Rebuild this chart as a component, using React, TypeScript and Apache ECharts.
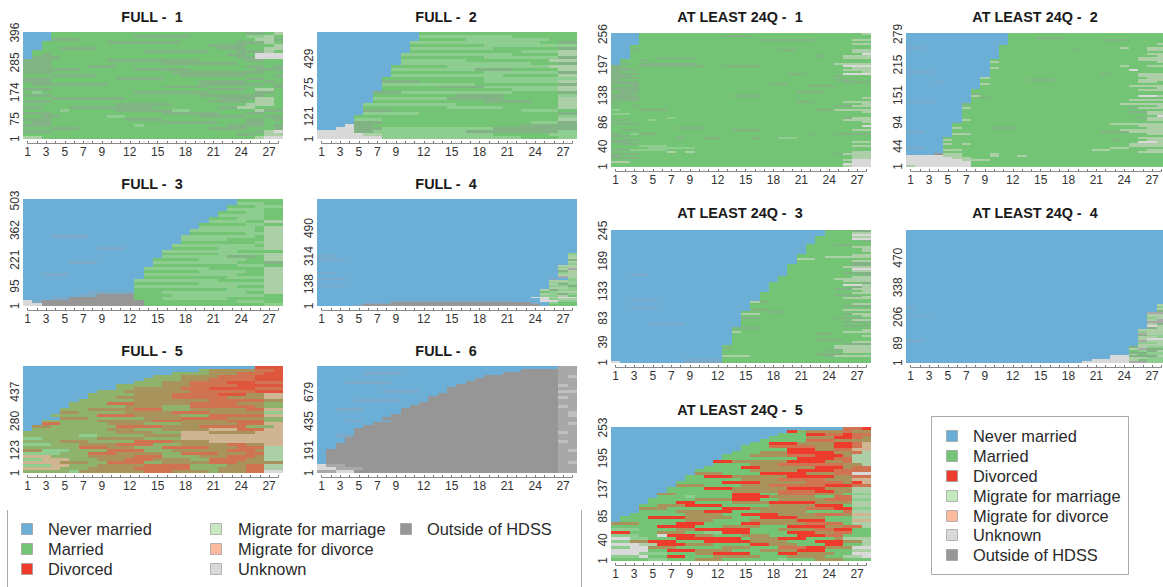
import React, { useEffect, useRef } from "react";
import * as echarts from "echarts";

const FONT = "'Liberation Sans', Arial, sans-serif";
const stateColors: Record<string, string> = {
  N: "#6BAED6", M: "#74C476", D: "#EF3B2C", m: "#C7E9C0", d: "#FCBBA1", U: "#D9D9D9", O: "#969696",
  g: "#82b385", h: "#8ecd90", x: "#accfa8", w: "#a8a8a8", u: "#c0c0c0", b: "#7ba9c8",
  j: "#a8935c", k: "#cf7350", K: "#e0563c", v: "#8fb36c", y: "#cfb592",
};
const legendNames = ["Never married", "Married", "Divorced", "Migrate for marriage", "Migrate for divorce", "Unknown", "Outside of HDSS"];
const legendColors = ["#6BAED6", "#74C476", "#EF3B2C", "#C7E9C0", "#FCBBA1", "#D9D9D9", "#969696"];
const xLabels = [1, 3, 5, 7, 9, 12, 15, 18, 21, 24, 27];
const xTicks = [1, 2, 3, 4, 5, 6, 7, 8, 9, 10, 11, 12, 13, 14, 15, 16, 17, 18, 19, 20, 21, 22, 23, 24, 25, 26, 27, 28];

const full1 = [
  "N3M21g2M1x1", "N3M9g6M6h2x1M1", "N3g3M18M1x2g1", "N2M1M6g8M6g3x1M1", "N2M18g4M2M1x1", "N2M2g4M13g3M2x2", "N1M2M10g7M3g3x1M1", "N1M1g1M19g2M1U2", "N1g3M19g2U3",
  "g3M6g10M5g2M2", "g3M12g8M3M2", "g3M4g3M14g2M1g1", "g3g3M6g6M6M1g1", "g3M13g8g2M2", "M3g5M9g7M2M1g1", "g3M7g5M9g2M2", "g3M16g5M2g1M1", "M1g2g6M10g7M1g1",
  "M3M12g5M6M1g1", "g3M10M7g4M1x2M1", "M1h1M10g8M5g2M1", "g3M16g6g1M2", "M3g8M10g4x2M1", "g3M17g4M1x2M1", "M3M7g6M8x3M1", "g2M3g9M7g2x2M1",
  "M4h1M5g6h2M6M1x1g1", "g3M12g6M3g2M2", "M2g2M5h2M8g5M2g1", "g3M8g4M9g2M1g1", "M1g2M12g6M3g2M2", "g3M9h1M9g4M1g1", "M3g3M14g4M2M1g1",
  "g3M18M4g1x1U1", "M3M20g2M1x2", "x2M1M21M1x1U2",
];
const full2 = [
  "N11M17", "N11h10M7", "N11M5h9M3", "N10h14M2g2", "N10M8h8h2", "N10h9M7g2", "N10M12h4x2",
  "N9h12M5x2", "N9M9h8g2", "N9h7M9x3", "N9h14M3g2", "N8M6h11x3", "N8h9g4M5x2", "N8M10h8g2", "N8h12M6x2",
  "N7M11h10", "N7g4M7h8x2", "N7h10M9g2", "N7M6g5h8x2", "N7M14h5x2", "N6g3h12M5g2", "N6M9g5M6h2", "N6h8g6M6x2", "N6M12g5M3x2",
  "N5h10M11x2", "N5M9h6M6x2", "N5g3M14h4M2", "N5h6M15g2", "N4M22h2", "N4h3M19x2", "N4g3M16h3g2",
  "N3U1g2M16g6", "N2U2g3h12g9", "U4g2h10g8g2h2", "U5x2h12M6h3", "U7h15M4h2",
];
const full3 = [
  "N23M5", "N23h3M2", "N22M3h3", "N22h4M2", "N21M3h2M2", "N21h5M2", "N20M3h3M2", "N20h4M2x2", "N19M5h2M2", "N19h6M1x2",
  "N18h7M1x2", "N18M6h2x2", "N3b4N10h8M1x2", "N17h5M4x2", "N17M8h1x2", "N16h9M1x2", "N8b3N5M5h5x2", "N15h8M3M2", "N15M6h5x2", "N15h7g3M1x2",
  "N14M5h5M2x2", "N5b3N6h9M3g2", "N14M9h3M2", "N13h7M6x2", "N13M6h5M2x2", "N2b3N8h10M3x2", "N13M9h4x2", "N12h9M5x2", "N12M7h7x2", "N12h11M3x2", "N12M10h4x2",
  "N7b5M3h9M2x2", "N6b2O4M4h10M2", "N3b2O7M3h7M5", "U1b1O11M10h3M2", "U2O11M13h2",
];
const full4 = [
  "N28*29", "N27h1", "b2N25x1", "N27x1", "b3N24g1", "N27x1", "N27h1", "N26x2", "N26h1x1", "N26x1w1", "N26g1x1", "b2N24h1x1", "N26x2", "N26w1x1",
  "b3N22b1N1h1x1", "N25x2h1", "N25h2x1", "N25x1g1h1", "b3N22h2g1", "N25x2h1", "N24x1g1h2", "N24M1h1x2", "N24x1h1g1h1", "N24h2x1M1", "N23U2x1U2",
  "N24U1h1x2", "N8b13N3U2h2", "N5b3O15b1N1h1M3", "N4b1O19N1M3",
];
const full5 = [
  "N25K3", "N19v1j5k2K1", "N16v4j3k3K2", "N14v3j4k4K3", "N13v4j3k5K3", "N12v3j3k4K3k3", "N10v5j3k5K5", "N10v2j5k3K5k3", "N8v3j5j2k7K3", "N7v5j4k5K3j2y2",
  "N7v3j6k6j4y2", "N6v6j5j3k6j2", "N5v4k3j6k5j3v2", "N5v6j4v3k7j1v2", "N4v3j5k3v3j6k2y2", "N4j2v5j5k4j6h2", "N3v5k4j5v3k6y2", "N4j3v6j4k5j4v2", "N2v6j6k3j5k4v2", "N2k2v5j4v4j6k3y2",
  "N1j2v7k5j4k5v3y1", "N1v8j3v3j5y3k3y2", "v10j4v3y3j5y3", "v6h2v5j4y4y4y3", "h2v6j5v4y6y3y2", "v4j3v5k4j4y5y3", "h3v3j4k4v3j5k2j2y2", "v6k3j3v3k5j3k3x2", "j2h3v4k4v3j6k3j1x2", "h4v3k3j5v2k4j3k2x2",
  "y3v4j5k3v4j3k3j1x2", "h2y3v3j3k3j4v2k4j2x2", "y4j3v2k4v2j5k3j3", "h3y2v3j5k5v4j2k2x2", "y4v3j5k6v3j3k2x2", "v5h1j7k3j4v1j3k2U2",
];
const full6 = [
  "N26w2", "N22O4w2", "N5b4N11O6w2", "N18O8w1u1", "N17O9w2", "N3b5N8O10w2", "N15O11u1w1", "N14O12w2", "N7b4N3O12u2", "N13O13w2", "N12O14u1w1", "N4b5N3O14w2",
  "N11O15w2", "N10O16u1w1", "N2b3N4O17w2", "N9O17w1u1", "N8O18w1u1", "N7O19w2", "N3b2N2b1O18w2", "N6O20w1u1", "N5O21w2", "N4O22w2", "N4O22u1w1", "N2b2O22w2", "N3O23w2", "N3O23u1w1", "N2O24w2", "N2O24w2", "N1O25w1u1",
  "N1O25w2", "N1O25w2", "N1O25w2", "N1O25w1u1", "U1w2O23w2", "U2w3O21w2", "w2U2O22w2",
];
const al1 = [
  "N3M24x1", "N3M9g3M13", "N3M25", "N3M13g6M4x2", "N3M25", "N3M23x2", "N2M26", "N2M26", "N2g1M15g2M6x2", "N2M24x2", "N2M25U1", "N2M20g1M2x3",
  "N2M3g4M13M3x3", "N1M2g1M24", "N1M27", "N1g1M1g6M15x4", "g1M2g7M2g4M9U3", "g2M24x2", "g2g1M20M2x3", "g1M26x1", "g3M16g2M4U3", "g2M2M20g1M3", "g3M25", "g1M23g2M2",
  "g3M22g3", "g2g1M14g2M9", "M2g1M18g3M4", "g3M25", "g3M25", "M1g2M17g3M5", "g2M26", "g3M10g3M12", "g3M24x1", "g3M25", "M3M17g2M3x3", "g1M2M24x1", "M2g1M21g2x2",
  "M28", "h1M2g3M16g2x1x3", "M27x1", "h2M26", "M28", "M3M3h1M18g1x2", "g2M2h1M20x3", "M27x1", "g3M25", "M27U1", "M3M4g3M18", "M1g2M10g3M10x2", "M28", "g1M1h1g2M16g1M2g2", "g2M26",
  "M7g1M2g2M3g1M2h2M10", "g3M25", "g2M24x2", "M1g2M25", "M3h3M20x2", "M4h5M19", "g2h1h3M22", "M6x1M1x1M17x2", "g3M21g1x3", "g1M25x2", "g3M23x2", "M3M22x1U2", "x2M24U2", "M25U3", "M25x1U2",
];
const al2 = [
  "N11M17", "N11M17", "N11M3g3M11", "N11M10g3M2M2", "N11M17", "N11M16x1",
  "N10M18", "b2N8M13x1M2x2", "N10M8g1M7x2", "N10M18", "N10M16x2", "N10M17x1", "N10M15x3",
  "N9M16x3", "N9x1M17x1", "N9M18", "N9M14x1M2x2", "N9x1M18", "N9M15U1M2", "b3N6M19", "N9M12g1M3x3", "N9M16x2x1",
  "N8x1M17x2", "N8M5g3M9x3", "N3b1N4M17x2M1", "N8x1M19", "N8M16x3x1", "N8M19x1",
  "N7M18x3", "N7M21", "N7g1M20", "N7x1M17U2x1", "N7M1g1M19", "N7M17x3x1", "b3N4M21",
  "N6g1M16x3x2", "N6M21x1", "N6x1M17g1x3", "N6M22", "N6M18g2x2", "N6M20x2", "N6M21U1", "N6M19g1x2", "N6x1M19x2", "N6M22",
  "N5M17x4x2", "N5M20x3", "N5x1M3g3M14x2", "N5M18x3x2", "b2N3M16g3x2x2", "N5x1x1M19x2", "N5M23",
  "N4M21x3", "N4x1M17g1M3x2", "N4M21U2x1", "N4x1M1x1M17x4", "N4M20x4", "b2N2M18x2M4", "N4x2M14x2M4x2", "N4M21x3",
  "N3O1x2M3x1M19", "U4x2M3x1M2x1M15", "U5x2M9M12", "U6x2x1M19", "U7M21", "U7M21x1", "x1U6M21",
];
const al3 = [
  "N23M3g2", "N23M3x2", "N23M3U2", "N22M4x2", "N22M4U2", "N22M5g1", "N22M6",
  "N21M3g2M2", "N21M5x2", "N21M4M2x1", "N21M6x1", "N21M7",
  "N20M6x2", "N20M3x3x2", "N20x2M6", "N20M6x2", "N20M6g2",
  "N19M7g2", "N19M6x3", "N19M7U2", "N19M7x2", "N19M6g2", "N2b2N15M8g1",
  "N18M8x2", "N18M6x2x2", "N18M7x3",
  "N17M10g1", "N17M8U2x1", "N17M9g1x1", "N17M7g2x2", "N17M10x1",
  "N16M10x2", "N16M8g2M2", "N16M10g1x1", "N16M9x3", "N2b3N11M12",
  "N15x1g1M8M3", "N15M11x2", "N15M10g3", "N2b3N10M13", "N15g2M8x3",
  "N14M3g2M9", "N14x2M9g1x2", "N14M13x1", "N14g2M8g3M1", "N14M12x2", "N14M11g3", "N4b4N6M14", "N14M11g3",
  "N13g3M12", "N13M14x1", "N13x1M11x3", "N13M9g2M4", "N13M14x1", "N13M15", "N13M9g3M3", "N13M13x2", "N13M12g3",
  "N12M12x4", "N12g1M11x4", "N12M11g2x3", "N12M13x3", "N12M10g3M3", "N12x3M8g1x4", "N12M16", "N8b4M16",
  "U1N7b4M16",
];
const al4 = [
  "N28*39", "N27x1", "b1N26h1", "N27x1", "N27g1", "N26w2", "N26x2", "b3N23x2", "N26h1x1", "N26x1w1", "N26w2", "N26x1g1", "N26U1x1", "N26g1x1",
  "N25x3", "N25h1x2", "N25w1x2", "N25g1h2", "N25x2h1", "N25x1U2", "b2N23w1x2", "N25h2x1", "N25x3",
  "N24g1x1h2", "N24x1w1g2", "N24M1h1g1x1", "N24g2h2", "N24x1M1h2", "N22U2g3x1", "N22U2x2h2", "N20U4x1M1h2", "N19U5w2h2",
];
const al5 = [
  "N25k2D1", "N19D1v1j4k1j2", "N18M3D2k2D1k2", "N17M4j3D2k1j1", "N16M5k3j2j2", "N15M2D3j4D2k1y1", "N14M3k5j2D2k1y1", "N14M5D3j2k2y2",
  "N13M3j3D5j2k1x1", "N12M3j4k3D3j1x2", "N12M5M3D4k2x2", "N11D2j6D4j2k1x2", "N11M4j3k7j2x1", "N10M4D2j6D3j1k2", "N9M6j5D4k2k2", "N9j3M4D5j3k2U2",
  "N8M2D3j6D5j2k2", "N8M6j4k5j3y2", "N7M5D4j5k4j1D1y1", "N7j3M4j3k6D3k2", "N6M4D3j6D4j3x2", "N6M7j5k4D2j2x2", "N5j2M6D3M2k4j3M1h2", "N5M3h1M4D4j5M2k2x2",
  "N4M5j4D3M2j5k3h2", "N4M3D2M4j4D5j4x2", "N3M2j3D4M5j5D3M1x2", "N3j3M6D3j6k3D2h2", "N3M4j3D3M3j5M4k1x2", "N2M6j4M2D4j4k3j1y2", "N1M3D4j5M3D4j3M3x2", "N1M7j3M4j5D3M3y2",
  "j3M4D3M4D2j5k4M1x2", "M5D4M3j4M3D4j2k2x1", "h3M4j2D6M3j4k2D2M2", "D2M3j3M2h2D3M4D3j2k2M2", "h3M2U1D3j2M3j3M3D3k2M2", "U2h2M3D7M1j3D3M3j1x3", "h2j2D3M3D5j4M3D3j2x1", "U3x2D3j3M4D2j3M3D2M2x1",
  "h2U2j3M5j3M3k3D2j3U2", "U4M2D3j4M3j4D3M3x2", "U3h3M3j2D4M3D2j4M2U2", "h3U1M2D2M3j5M3j4M2x2U1", "M4h2M3j3M6h1M3j3M3x1U1",
];

const panels = [
  { title: "FULL -  1", left: 23, top: 32, height: 107, total: 398, ticks: [1, 75, 174, 285, 396], rows: full1, titleGap: 22 },
  { title: "FULL -  2", left: 317, top: 32, height: 107, total: 570, ticks: [1, 121, 275, 429], rows: full2, titleGap: 22 },
  { title: "FULL -  3", left: 23, top: 199, height: 107, total: 510, ticks: [1, 95, 221, 362, 503], rows: full3, titleGap: 22 },
  { title: "FULL -  4", left: 317, top: 199, height: 107, total: 673, ticks: [1, 138, 314, 490], rows: full4, titleGap: 22 },
  { title: "FULL -  5", left: 23, top: 366, height: 107, total: 575, ticks: [1, 123, 280, 437], rows: full5, titleGap: 22 },
  { title: "FULL -  6", left: 317, top: 366, height: 107, total: 896, ticks: [1, 191, 435, 679], rows: full6, titleGap: 22 },
  { title: "AT LEAST 24Q -  1", left: 611, top: 33, height: 134, total: 258, ticks: [1, 40, 86, 138, 197, 256], rows: al1, titleGap: 23 },
  { title: "AT LEAST 24Q -  2", left: 906, top: 33, height: 134, total: 281, ticks: [1, 44, 94, 151, 215, 279], rows: al2, titleGap: 23 },
  { title: "AT LEAST 24Q -  3", left: 611, top: 230, height: 133, total: 246, ticks: [1, 39, 83, 133, 189, 245], rows: al3, titleGap: 24 },
  { title: "AT LEAST 24Q -  4", left: 906, top: 230, height: 133, total: 594, ticks: [1, 89, 206, 338, 470], rows: al4, titleGap: 24 },
  { title: "AT LEAST 24Q -  5", left: 611, top: 427, height: 134, total: 254, ticks: [1, 40, 85, 137, 195, 253], rows: al5, titleGap: 24 },
];

const COL = 260 / 28;

function expandRows(rows: string[]) {
  const out: string[] = [];
  rows.forEach((r) => {
    const [body, rep] = r.split("*");
    const n = rep ? parseInt(rep, 10) : 1;
    for (let i = 0; i < n; i++) out.push(body);
  });
  return out;
}

function toRuns(rows: string[], total: number) {
  const list = expandRows(rows);
  const runs: (number | string)[][] = [];
  list.forEach((row, i) => {
    const hi = total * (1 - i / list.length);
    const lo = total * (1 - (i + 1) / list.length);
    let col = 1;
    let last = "M";
    for (const m of row.matchAll(/([A-Za-z])(\d+)/g)) {
      last = m[1];
      const end = Math.min(col + parseInt(m[2], 10), 29);
      if (end > col) runs.push([col - 0.5, end - 0.5, lo, hi, m[1]]);
      col = end;
    }
    if (col < 29) runs.push([col - 0.5, 28.5, lo, hi, last]);
  });
  return runs;
}

function buildOption() {
  const title: any[] = [];
  const grid: any[] = [];
  const xAxis: any[] = [];
  const yAxis: any[] = [];
  const series: any[] = [];
  panels.forEach((p, i) => {
    title.push({
      text: p.title,
      left: p.left + 129,
      top: p.top - p.titleGap,
      padding: 0,
      textAlign: "center",
      textStyle: { fontFamily: FONT, fontSize: 14.4, fontWeight: "bold", color: "#1a1a1a" },
    });
    grid.push({ left: p.left + COL / 2, top: p.top, width: COL * 27, height: p.height, containLabel: false });
    xAxis.push({
      type: "value", gridIndex: i, min: 1, max: 28, interval: 1, offset: 4,
      splitLine: { show: false },
      axisLine: { show: true, onZero: false, lineStyle: { color: "#8a8a8a", width: 1 } },
      axisTick: { show: true, inside: true, length: 2, customValues: xTicks, lineStyle: { color: "#777", width: 1 } },
      axisLabel: {
        show: true, customValues: xLabels, margin: 3, fontFamily: FONT, fontSize: 12, color: "#333",
        hideOverlap: false,
      },
    });
    yAxis.push({
      type: "value", gridIndex: i, min: 0, max: p.total,
      splitLine: { show: false },
      axisLine: { show: false },
      axisTick: { show: false },
      axisLabel: { show: true, customValues: p.ticks, rotate: 90, margin: 7, fontFamily: FONT, fontSize: 12, color: "#333", hideOverlap: false },
    });
    series.push({
      type: "custom", xAxisIndex: i, yAxisIndex: i, clip: false, silent: true,
      data: toRuns(p.rows, p.total),
      encode: { x: [0, 1], y: [2, 3] },
      renderItem: (_: any, api: any) => {
        const a = api.coord([api.value(0), api.value(3)]);
        const b = api.coord([api.value(1), api.value(2)]);
        const x0 = Math.round(a[0]);
        const x1 = Math.round(b[0]);
        const y0 = Math.round(a[1]);
        const y1 = Math.round(b[1]);
        return {
          type: "rect",
          shape: { x: x0, y: y0, width: x1 - x0, height: y1 - y0 },
          style: { fill: stateColors[api.value(4) as string] },
        };
      },
      dimensions: [
        { name: "c0", type: "number" }, { name: "c1", type: "number" },
        { name: "lo", type: "number" }, { name: "hi", type: "number" },
        { name: "s", type: "ordinal" },
      ],
    });
  });

  const graphic: any[] = [];
  const legendItem = (idx: number, sx: number, tx: number, y: number) => {
    graphic.push({
      type: "rect", shape: { x: sx - 5.5, y: y - 5.5, width: 11, height: 11 },
      style: { fill: legendColors[idx], stroke: "#999", lineWidth: 0.7 },
    });
    graphic.push({
      type: "text", x: tx, y,
      style: { text: legendNames[idx], font: `16.4px ${FONT}`, fill: "#2a2a2a", verticalAlign: "middle", textBaseline: "middle" },
    });
  };
  const lineStyle = { stroke: "#aaaaaa", lineWidth: 1 };
  graphic.push({ type: "line", shape: { x1: 7.5, y1: 510, x2: 7.5, y2: 587 }, style: lineStyle });
  graphic.push({ type: "line", shape: { x1: 581.5, y1: 510, x2: 581.5, y2: 587 }, style: lineStyle });
  [[0, 529], [1, 549], [2, 569]].forEach(([k, y]) => legendItem(k, 27, 48, y));
  [[3, 529], [4, 549], [5, 569]].forEach(([k, y]) => legendItem(k, 216, 238, y));
  legendItem(6, 406, 427, 529);
  graphic.push({
    type: "rect", shape: { x: 931.5, y: 416.5, width: 197, height: 158 },
    style: { fill: "#fff", stroke: "#aaaaaa", lineWidth: 1 },
  });
  [436, 456, 476, 496, 516, 535, 555].forEach((y, k) => legendItem(k, 952, 973, y));

  return { animation: false, backgroundColor: "#fff", title, grid, xAxis, yAxis, series, graphic };
}

export default function App() {
  const ref = useRef<HTMLDivElement>(null);
  useEffect(() => {
    document.body.style.margin = "0";
    const chart = echarts.init(ref.current!, null, { renderer: "svg" });
    chart.setOption(buildOption());
    return () => chart.dispose();
  }, []);
  return <div ref={ref} style={{ width: 1163, height: 587 }} />;
}
